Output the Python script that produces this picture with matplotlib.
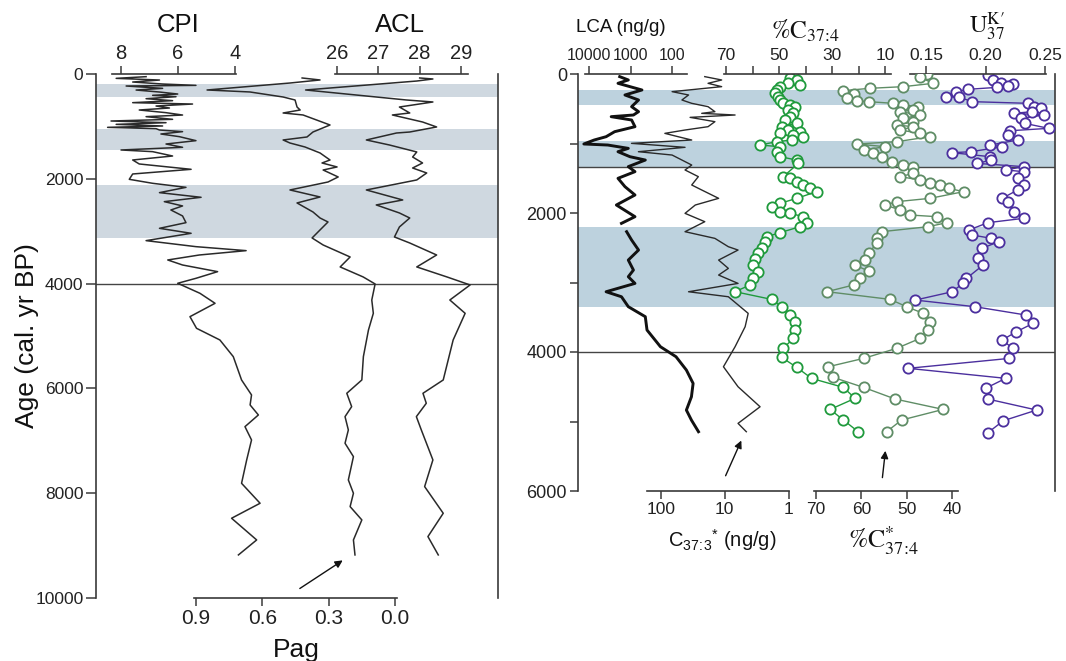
import numpy as np
import matplotlib
matplotlib.use("Agg")
import matplotlib.pyplot as plt
from matplotlib.ticker import NullLocator

plt.rcParams['font.family'] = ['Liberation Sans', 'DejaVu Sans']
plt.rcParams['mathtext.fontset'] = 'custom'
plt.rcParams['mathtext.rm'] = 'Liberation Sans'
plt.rcParams['mathtext.it'] = 'Liberation Sans:italic'

# ---------------- left panel: n-alkane indices (age, cal. yr BP) ----------------
cpi_age = [51, 83, 115, 153, 191, 217, 229, 274, 306, 344, 382, 407, 433, 471, 509, 547,
           573, 611, 649, 687, 738, 783, 814, 865, 897, 929, 961, 992, 1018, 1043, 1069,
           1100, 1145, 1196, 1272, 1336, 1399, 1450, 1482, 1565, 1641, 1717, 1819, 1908,
           2010, 2086, 2163, 2264, 2353, 2436, 2518, 2595, 2709, 2837, 2945, 3040, 3180,
           3295, 3371, 3454, 3549, 3645, 3772, 3899, 3994, 4185, 4376, 4631, 4853, 5076,
           5394, 5839, 6125, 6316, 6507, 6730, 6984, 7365, 7811, 8192, 8478, 8892, 9178]
cpi = [7.12, 8.17, 6.65, 7.59, 6.54, 5.37, 7.82, 6.54, 7.47, 6.65, 6.01, 6.89, 6.07, 7.12,
       6.19, 7.59, 5.49, 6.77, 6.30, 7.36, 6.42, 5.84, 7.12, 6.19, 8.35, 6.42, 8.17, 6.54,
       8.47, 6.77, 6.65, 5.84, 6.60, 5.95, 5.37, 6.42, 5.84, 8.00, 6.89, 6.19, 7.59, 7.36,
       5.54, 7.59, 7.71, 6.89, 5.72, 6.65, 5.19, 6.48, 5.84, 6.25, 5.84, 5.72, 6.65, 5.54,
       7.12, 5.37, 3.61, 5.25, 6.36, 5.84, 4.61, 5.37, 6.01, 5.23, 4.70, 5.58, 5.35, 4.53,
       4.06, 3.77, 3.42, 3.47, 3.18, 3.65, 3.42, 3.59, 3.77, 3.12, 4.12, 3.24, 3.88]

pag_age = [76, 114, 172, 305, 343, 439, 496, 630, 687, 744, 782, 973, 1107, 1202, 1259,
           1317, 1393, 1507, 1641, 1698, 1774, 1832, 1965, 2061, 2213, 2347, 2461, 2633,
           2748, 2824, 2976, 3129, 3263, 3492, 3682, 3873, 4007, 4313, 4567, 4885, 5394,
           5839, 6093, 6348, 6539, 6793, 7047, 7302, 7747, 8001, 8256, 8510, 8892, 9178]
pag = [0.420, 0.339, 0.475, 0.850, 0.656, 0.506, 0.452, 0.443, 0.429, 0.506, 0.416, 0.294,
       0.371, 0.398, 0.506, 0.475, 0.407, 0.339, 0.294, 0.330, 0.262, 0.325, 0.257, 0.303,
       0.475, 0.339, 0.443, 0.371, 0.339, 0.303, 0.339, 0.375, 0.325, 0.203, 0.248, 0.144,
       0.090, 0.105, 0.098, 0.120, 0.143, 0.150, 0.218, 0.196, 0.226, 0.211, 0.226, 0.188,
       0.211, 0.188, 0.203, 0.150, 0.188, 0.181]

acl_age = [76, 95, 134, 305, 496, 534, 630, 744, 782, 916, 1011, 1107, 1126, 1259, 1355,
           1488, 1584, 1698, 1794, 1889, 2022, 2213, 2404, 2499, 2652, 2748, 2919, 3110,
           3225, 3454, 3682, 3873, 4026, 4313, 4567, 5076, 5839, 6093, 6284, 6539, 6793,
           7365, 7874, 8383, 8828, 9178]
acl = [28.00, 28.32, 27.93, 25.24, 27.68, 28.32, 27.51, 27.76, 27.34, 28.07, 28.41, 27.76,
       27.44, 26.71, 27.27, 27.93, 27.83, 28.07, 27.83, 28.17, 27.93, 26.71, 27.59, 26.95,
       27.51, 27.76, 27.51, 27.39, 27.76, 28.41, 27.93, 28.66, 29.22, 28.73, 29.10, 28.81,
       28.57, 28.08, 28.16, 27.92, 28.04, 28.32, 28.12, 28.57, 28.20, 28.45]

left_bands = [(190, 440), (1050, 1450), (2120, 3130)]

# ---------------- right panel: alkenones ----------------
lca_age = [38, 86, 134, 230, 302, 374, 470, 542, 590, 614, 662, 758, 830, 902, 950, 1007,
           1022, 1070, 1118, 1190, 1238, 1333, 1405, 1501, 1621, 1741, 1885, 2053, 2149,
           2200, 2269, 2389, 2533, 2677, 2821, 2917, 3013, 3133, 3205, 3348, 3492, 3684,
           3924, 4068, 4260, 4452, 4644, 4836, 4980, 5147]
lca = [1820, 1130, 2000, 530, 1360, 640, 940, 640, 850, 2920, 940, 780, 2410, 3870, 7520,
       13300, 3520, 1130, 2000, 1030, 440, 1130, 780, 2000, 1360, 780, 2190, 780, 1650,
       np.nan, 1240, 940, 640, 1130, 850, 1130, 780, 3870, 1650, 1130, 440, 400,
       190, 80, 45, 31, 34, 45, 34, 23]

c373_age = [38, 86, 134, 182, 254, 302, 374, 422, 470, 542, 566, 590, 624, 686, 758, 806,
            854, 902, 950, 998, 1055, 1118, 1166, 1238, 1310, 1381, 1477, 1597, 1669, 1789,
            1885, 2005, 2125, 2269, 2365, 2485, 2533, 2677, 2797, 2893, 3013, 3133, 3205,
            3444, 3636, 3924, 4212, 4500, 4788, 5027, 5147]
c373 = [20.6, 11.2, 18.3, 11.2, 67, 37, 47, 33, 18.3, 14.3, 23, 6.9, 35, 14.3, 18.3, 42,
        87, 54, 33, 290, 42, 226, 67, 47, 33, 42, 26, 33, 23, 12.5, 29, 42, 20.6, 42, 14.3,
        8.8, 6.2, 12.5, 8.8, 12.5, 6.2, 37, 8.8, 4.3, 4.8, 6.9, 10.5, 6.2, 2.8, 6.2, 4.6]

c374_age = [14, 62, 86, 134, 158, 182, 230, 278, 326, 374, 422, 446, 470, 518, 566, 614,
            662, 710, 758, 806, 830, 854, 878, 902, 950, 974, 1022, 1046, 1118, 1190, 1238,
            1286, 1477, 1501, 1549, 1597, 1645, 1693, 1789, 1861, 1909, 1981, 2005, 2053,
            2139, 2197, 2283, 2341, 2413, 2509, 2581, 2667, 2749, 2845, 2940, 3036, 3132,
            3243, 3348, 3468, 3564, 3684, 3804, 3948, 4077, 4221, 4380, 4509, 4667, 4826,
            4979, 5147]
c374 = [44.6, 45.8, 43.3, 46.5, 42.1, 49.6, 50.9, 51.5, 50.2, 49.6, 48.4, 45.8, 44.0, 46.5,
        44.6, 45.8, 47.7, 43.3, 49.0, 46.5, 42.1, 49.6, 44.6, 40.8, 45.2, 50.9, 57.2, 49.6,
        50.9, 49.6, 43.3, 42.7, 48.4, 45.8, 43.3, 40.8, 38.3, 35.8, 43.3, 49.6, 52.8, 49.6,
        45.8, 40.8, 39.6, 42.1, 49.6, 54.6, 55.3, 56.5, 57.8, 59.1, 59.7, 57.8, 59.7, 60.9,
        66.6, 52.8, 49.0, 45.8, 43.9, 43.9, 44.6, 48.4, 49.0, 43.3, 37.7, 25.7, 21.3, 30.7,
        25.7, 20.1]

c374s_age = [0, 48, 134, 182, 206, 240, 288, 350, 384, 398, 422, 446, 470, 518, 542, 590,
             638, 686, 734, 758, 806, 854, 902, 974, 1007, 1046, 1094, 1142, 1199, 1262,
             1310, 1334, 1430, 1477, 1525, 1573, 1597, 1645, 1693, 1789, 1837, 1885, 1957,
             2029, 2053, 2139, 2197, 2269, 2365, 2437, 2581, 2677, 2749, 2835, 2940, 3036,
             3132, 3243, 3348, 3444, 3564, 3684, 3804, 3948, 4092, 4212, 4365, 4509, 4677,
             4826, 4979, 5147]
c374s = [45.5, 47.0, 44.1, 50.7, 58.1, 64.0, 61.7, 63.2, 61.0, 58.4, 52.9, 50.7, 47.4, 48.5,
         51.4, 47.0, 50.7, 48.5, 52.2, 48.5, 51.4, 47.0, 44.8, 52.2, 61.0, 54.7, 59.5, 57.3,
         55.5, 53.3, 50.7, 48.5, 48.5, 51.4, 47.0, 44.8, 42.6, 40.7, 37.4, 44.8, 52.2, 54.7,
         51.4, 49.2, 43.3, 41.1, 45.2, 55.5, 56.6, 56.6, 58.4, 59.2, 61.4, 58.4, 60.3, 61.7,
         67.6, 53.6, 50.0, 46.3, 44.8, 45.2, 47.0, 52.2, 59.5, 67.3, 66.2, 59.5, 52.5, 41.9,
         51.1, 54.4]

uk_age = [14, 86, 134, 144, 173, 192, 221, 254, 326, 336, 398, 422, 470, 490, 542, 566, 590,
          638, 710, 782, 816, 878, 950, 1022, 1046, 1118, 1132, 1190, 1238, 1286, 1333, 1381,
          1405, 1501, 1597, 1669, 1789, 1837, 1981, 2077, 2139, 2245, 2317, 2365, 2413, 2509,
          2653, 2749, 2941, 3013, 3133, 3253, 3348, 3468, 3588, 3708, 3828, 3948, 4092, 4235,
          4379, 4523, 4677, 4835, 4989, 5161]
uk = [0.202, 0.206, 0.213, 0.223, 0.219, 0.210, 0.185, 0.175, 0.167, 0.178, 0.189, 0.236,
      0.241, 0.247, 0.239, 0.224, 0.249, 0.230, 0.233, 0.253, 0.221, 0.219, 0.227, 0.204,
      0.214, 0.188, 0.172, 0.204, 0.205, 0.193, 0.232, 0.217, 0.232, 0.227, 0.232, 0.227,
      0.214, 0.219, 0.224, 0.232, 0.202, 0.186, 0.189, 0.205, 0.211, 0.197, 0.194, 0.198,
      0.184, 0.181, 0.172, 0.141, 0.191, 0.234, 0.240, 0.226, 0.214, 0.223, 0.220, 0.135,
      0.217, 0.200, 0.202, 0.243, 0.215, 0.202]

right_bands = [(230, 446), (960, 1340), (2200, 3350)]
right_lines = [1340, 4000]

W, H = 1066, 661
INK = '#2a2a2a'
SPINE = '#3a3a3a'


def fx(x):
    return x / W


def fy(y):
    return 1 - y / H


def span(p0, v0, p1, v1, a, b, log=False):
    # axis limits so that value v0 sits at pixel p0 and v1 at p1
    f = np.log10 if log else float
    k = (f(v1) - f(v0)) / (p1 - p0)
    lo, hi = f(v0) + (a - p0) * k, f(v0) + (b - p0) * k
    return (10 ** lo, 10 ** hi) if log else (lo, hi)


def scale_axis(ax, side, lim, bounds, ticks, labels, size, log=False):
    tw = ax.twiny()
    tw.patch.set_visible(False)
    if log:
        tw.set_xscale('log')
    tw.set_xlim(*lim)
    for s in tw.spines.values():
        s.set_visible(False)
    sp = tw.spines[side]
    sp.set_visible(True)
    sp.set_bounds(*bounds)
    sp.set_color(SPINE)
    sp.set_linewidth(1.2)
    tw.xaxis.set_ticks_position(side)
    tw.set_xticks(ticks)
    tw.set_xticklabels(labels)
    tw.xaxis.set_minor_locator(NullLocator())
    tw.tick_params(axis='x', direction='out', length=6, width=1.1, color=SPINE,
                   pad=2, labelsize=size, labelcolor='#222')
    return tw


fig = plt.figure(figsize=(W / 100, H / 100), dpi=100)

# ---------------- left panel ----------------
L0, L1, T0, B0 = 96, 498, 74, 598
axL = fig.add_axes([fx(L0), fy(B0), fx(L1 - L0), (B0 - T0) / H])
axL.set_ylim(10000, 0)
axL.set_xticks([])
for k in ('top', 'bottom'):
    axL.spines[k].set_visible(False)
for k in ('left', 'right'):
    axL.spines[k].set_color(SPINE)
    axL.spines[k].set_linewidth(1.2)
axL.set_yticks(range(0, 10001, 2000))
axL.tick_params(axis='y', direction='out', length=7, width=1.1, color=SPINE,
                labelsize=12.5, pad=2, labelcolor='#222')
for a, b in left_bands:
    axL.axhspan(a, b, color='#cfd8e0', lw=0, zorder=0)
axL.axhline(4000, color='#444444', lw=1.0, zorder=1)

t_cpi = scale_axis(axL, 'top', span(121, 8, 235, 4, L0, L1), (8.3, 3.95),
                   [8, 6, 4], ['8', '6', '4'], 14.5)
t_acl = scale_axis(axL, 'top', span(337, 26, 461, 29, L0, L1), (25.95, 29.17),
                   [26, 27, 28, 29], ['26', '27', '28', '29'], 14.5)
t_pag = scale_axis(axL, 'bottom', span(196, 0.9, 395, 0.0, L0, L1), (0.91, -0.01),
                   [0.9, 0.6, 0.3, 0.0], ['0.9', '0.6', '0.3', '0.0'], 15)
t_cpi.plot(cpi, cpi_age, color=INK, lw=1.1)
t_pag.plot(pag, pag_age, color=INK, lw=1.1)
t_acl.plot(acl, acl_age, color=INK, lw=1.1)
t_pag.annotate('', xy=(pag[-1] + 0.045, pag_age[-1] + 75),
               xytext=(pag[-1] + 0.26, pag_age[-1] + 670),
               arrowprops=dict(arrowstyle='-|>', color='#111', lw=1.0, mutation_scale=11))

fig.text(fx(178), fy(25), 'CPI', ha='center', va='center', fontsize=18.5, color='#111')
fig.text(fx(400), fy(25), 'ACL', ha='center', va='center', fontsize=18.5, color='#111')
fig.text(fx(296), fy(650), 'Pag', ha='center', va='center', fontsize=19, color='#111')
fig.text(fx(27), fy(336), 'Age (cal. yr BP)', ha='center', va='center', rotation=90,
         fontsize=19, color='#111')

# ---------------- right panel ----------------
R0, R1, RT, RB = 578, 1055, 74, 491
axR = fig.add_axes([fx(R0), fy(RB), fx(R1 - R0), (RB - RT) / H])
axR.set_ylim(6000, 0)
axR.set_xticks([])
for k in ('top', 'bottom'):
    axR.spines[k].set_visible(False)
for k in ('left', 'right'):
    axR.spines[k].set_color(SPINE)
    axR.spines[k].set_linewidth(1.2)
axR.set_yticks([0, 2000, 4000, 6000])
axR.set_yticks([1000, 3000, 5000], minor=True)
axR.tick_params(axis='y', which='both', direction='out', length=6, width=1.1, color=SPINE,
                labelsize=13, pad=2, labelcolor='#222')
for a, b in right_bands:
    axR.axhspan(a, b, color='#bdd2de', lw=0, zorder=0)
for y in right_lines:
    axR.axhline(y, color='#444444', lw=1.0, zorder=1)

t_lca = scale_axis(axR, 'top', span(589, 1e4, 630.5, 1e3, R0, R1, log=True), (12500, 44),
                   [10000, 1000, 100], ['10000', '1000', '100'], 11.5, log=True)
t_c4 = scale_axis(axR, 'top', span(726, 70, 885, 10, R0, R1), (70.9, 7.8),
                  [70, 60, 50, 40, 30, 20, 10], ['70', '', '50', '', '30', '', '10'], 12.5)
t_uk = scale_axis(axR, 'top', span(926, 0.15, 1045, 0.25, R0, R1), (0.1366, 0.251),
                  [0.15, 0.20, 0.25], ['0.15', '0.20', '0.25'], 12.5)
t_c3 = scale_axis(axR, 'bottom', span(661, 100, 724.8, 10, R0, R1, log=True), (166, 0.98),
                  [100, 10, 1], ['100', '10', '1'], 12.5, log=True)
t_c4s = scale_axis(axR, 'bottom', span(816, 70, 951.8, 40, R0, R1), (70.4, 38.6),
                   [70, 60, 50, 40], ['70', '60', '50', '40'], 12.5)

t_lca.plot(lca, lca_age, color='#111', lw=2.1)
t_c3.plot(c373, c373_age, color=INK, lw=1.0)
mk = dict(marker='o', ms=7.4, mfc='white', mew=1.3, lw=1.0)
t_c4.plot(c374, c374_age, color='#1f9a3c', mec='#1f9a3c', **mk)
t_c4s.plot(c374s, c374s_age, color='#5f8d66', mec='#5f8d66', **mk)
t_uk.plot(uk, uk_age, color='#4b2f9e', mec='#4b2f9e', **mk)

t_c3.annotate('', xy=(c373[-1] * 1.15, c373_age[-1] + 90),
              xytext=(c373[-1] * 2.2, c373_age[-1] + 670),
              arrowprops=dict(arrowstyle='-|>', color='#111', lw=1.0, mutation_scale=11))
t_c4s.annotate('', xy=(c374s[-1] + 0.2, c374s_age[-1] + 235),
               xytext=(c374s[-1] + 1.0, c374s_age[-1] + 700),
               arrowprops=dict(arrowstyle='-|>', color='#111', lw=1.0, mutation_scale=11))

fig.text(fx(621), fy(28), 'LCA (ng/g)', ha='center', va='center', fontsize=13.5, color='#111')
fig.text(fx(806), fy(31), r'$\%\mathrm{C}_{37\!:\!4}$', ha='center', va='center', fontsize=18,
         color='#111', math_fontfamily='stix')
fig.text(fx(987), fy(27), r'$\mathrm{U}_{37}^{\mathrm{K}\prime}$', ha='center', va='center',
         fontsize=17.5, color='#111', math_fontfamily='stix')
fig.text(fx(722), fy(540), r'C$_{37\!:\!3}$$^{*}$ (ng/g)', ha='center', va='center',
         fontsize=14.5, color='#111')
fig.text(fx(884), fy(541), r'$\%\mathrm{C}_{37\!:\!4}^{*}$', ha='center', va='center',
         fontsize=18.5, color='#111', math_fontfamily='stix')

fig.savefig('out.png', dpi=100, facecolor='white')
